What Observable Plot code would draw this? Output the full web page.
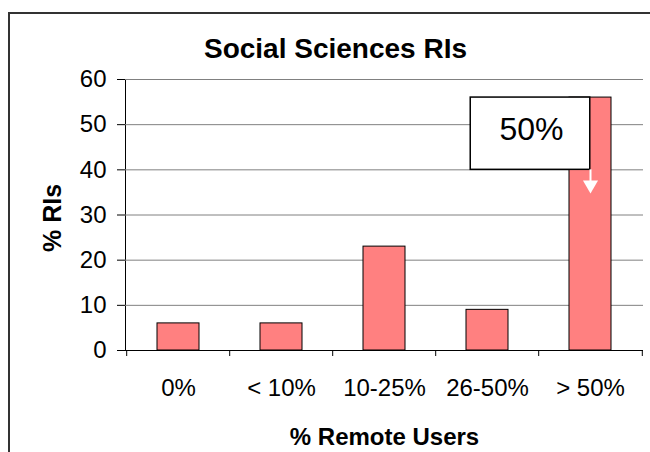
<!DOCTYPE html>
<html><head><meta charset="utf-8">
<script src="https://cdn.jsdelivr.net/npm/d3@7"></script>
<script src="https://cdn.jsdelivr.net/npm/@observablehq/plot@0.6"></script>
<style>
html,body{margin:0;padding:0;background:#fff;overflow:hidden;}
#wrap{position:relative;width:650px;height:452px;overflow:hidden;}
#border{position:absolute;left:8px;top:12px;width:700px;height:500px;border:2px solid #333;box-sizing:border-box;}
#chart{position:absolute;left:0;top:0;}
</style></head><body>
<div id="wrap"><div id="border"></div><div id="chart"></div></div>
<script>
const categories = ["0%", "< 10%", "10-25%", "26-50%", "> 50%"];
const values = [6, 6, 23, 9, 56];
const yTicks = [0, 10, 20, 30, 40, 50, 60];
const title = "Social Sciences RIs";
const xLabel = "% Remote Users";
const yLabel = "% RIs";
const calloutCategory = "> 50%";
const calloutText = "50%";
const calloutRange = [40, 56];
const arrowRange = [40, 36.7];

const data = categories.map((c, i) => ({category: c, value: values[i]}));
const W = 650, H = 452, mL = 125, mR = 7, mT = 79, mB = 102;
const step = (W - mL - mR) / categories.length;
const padInner = 0.59;
const bw = step * (1 - padInner);

const chart = Plot.plot({
  width: W, height: H, marginLeft: mL, marginRight: mR, marginTop: mT, marginBottom: mB,
  style: {fontFamily: "'Liberation Sans', Arial, sans-serif", fontSize: "24px", color: "#000", background: "transparent"},
  x: {domain: categories, paddingInner: padInner, paddingOuter: padInner / 2, axis: null},
  y: {domain: [0, 60], ticks: yTicks, tickSize: 8, tickPadding: 11, line: true, label: null, tickFormat: d => d},
  marks: [
    Plot.ruleY(yTicks.filter(d => d > 0), {stroke: "#808080"}),
    Plot.barY(data, {x: "category", y: "value", fill: "#FF8080", stroke: "#000", strokeWidth: 1}),
    Plot.ruleY([0], {stroke: "#000"}),
    Plot.ruleX(categories, {x: d => d, y1: 0, y2: 0, insetBottom: -6, dx: -step / 2, stroke: "#000"}),
    Plot.ruleX([categories[categories.length - 1]], {x: d => d, y1: 0, y2: 0, insetBottom: -6, dx: step / 2, stroke: "#000"}),
    Plot.text(categories, {x: d => d, frameAnchor: "bottom", text: d => d, textAnchor: "middle", lineAnchor: "middle", dy: 38, fontSize: 24}),
    Plot.barY([calloutCategory], {x: d => d, y1: calloutRange[0], y2: calloutRange[1], fill: "#fff", stroke: "#000", strokeWidth: 1.5, insetLeft: -(120 - bw / 2), insetRight: bw / 2}),
    Plot.text([calloutText], {x: () => calloutCategory, y: (calloutRange[0] + calloutRange[1]) / 2, text: d => d, textAnchor: "middle", lineAnchor: "middle", dx: -59, dy: -4, fontSize: 32}),
    Plot.ruleX([calloutCategory], {x: d => d, y1: arrowRange[0], y2: arrowRange[1], stroke: "#fff", strokeWidth: 2}),
    Plot.dot([calloutCategory], {x: d => d, y: arrowRange[1], symbol: "triangle", rotate: 180, r: 5.6, fill: "#fff", stroke: "none"}),
    Plot.text([title], {frameAnchor: "top", text: d => d, textAnchor: "middle", lineAnchor: "middle", dx: -49, dy: -30, fontSize: 28, fontWeight: "bold"}),
    Plot.text([xLabel], {frameAnchor: "bottom", text: d => d, textAnchor: "middle", lineAnchor: "middle", dy: 87, fontSize: 24, fontWeight: "bold"}),
    Plot.text([yLabel], {frameAnchor: "left", text: d => d, textAnchor: "middle", lineAnchor: "middle", rotate: -90, dx: -73, dy: 3, fontSize: 25, fontWeight: "bold"})
  ]
});
document.getElementById("chart").appendChild(chart);
</script>
</body></html>
